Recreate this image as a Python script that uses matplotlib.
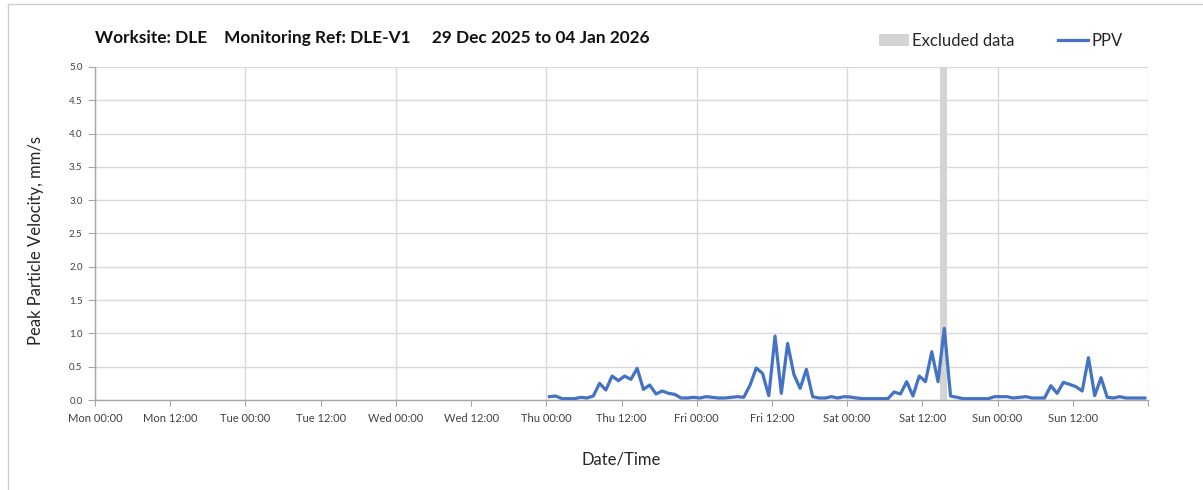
import numpy as np
import matplotlib
matplotlib.use("Agg")
import matplotlib.pyplot as plt
import matplotlib.dates as mdates
from matplotlib.patches import Patch
from matplotlib.lines import Line2D
from datetime import datetime, timedelta

# ---------------- data ----------------
axis_start = datetime(2025, 12, 29, 0, 0)
axis_end = datetime(2026, 1, 5, 0, 0)
data_start = datetime(2026, 1, 1, 0, 30)   # hourly readings

ppv_thu = [0.05, 0.06, 0.02, 0.02, 0.02, 0.04, 0.03, 0.06, 0.25, 0.15, 0.36, 0.29,
           0.36, 0.31, 0.475, 0.16, 0.225, 0.09, 0.135, 0.10, 0.085, 0.03, 0.03, 0.04]
ppv_fri = [0.03, 0.05, 0.04, 0.03, 0.03, 0.04, 0.05, 0.04, 0.22, 0.48, 0.40, 0.065,
           0.96, 0.10, 0.85, 0.385, 0.175, 0.46, 0.05, 0.03, 0.03, 0.05, 0.03, 0.05]
ppv_sat = [0.045, 0.03, 0.02, 0.02, 0.02, 0.02, 0.02, 0.12, 0.09, 0.275, 0.06, 0.36,
           0.275, 0.725, 0.275, 1.075, 0.06, 0.04, 0.02, 0.02, 0.02, 0.02, 0.02, 0.05]
ppv_sun = [0.05, 0.05, 0.03, 0.04, 0.05, 0.03, 0.03, 0.03, 0.215, 0.10, 0.265, 0.235,
           0.20, 0.135, 0.635, 0.065, 0.335, 0.04, 0.03, 0.05, 0.03, 0.03, 0.03, 0.03]
ppv = ppv_thu + ppv_fri + ppv_sat + ppv_sun
times = [data_start + timedelta(hours=i) for i in range(len(ppv))]

excluded_start = datetime(2026, 1, 3, 14, 45)
excluded_end = datetime(2026, 1, 3, 15, 55)

title_text = "Worksite: DLE    Monitoring Ref: DLE-V1     29 Dec 2025 to 04 Jan 2026"
y_ticks = [0.0, 0.5, 1.0, 1.5, 2.0, 2.5, 3.0, 3.5, 4.0, 4.5, 5.0]

# ---------------- plot ----------------
plt.rcParams['font.family'] = ['Lato', 'DejaVu Sans']
W, H = 1203, 490
fig = plt.figure(figsize=(W / 100, H / 100), dpi=100)
ax = fig.add_axes([95 / W, 1 - 400 / H, (1148 - 95) / W, (400 - 67) / H])

line_col = '#4472C4'
grid_col = '#d9d9d9'
spine_col = '#a6a6a6'
text_col = '#404040'

ax.axvspan(excluded_start, excluded_end, color='#d4d4d4', lw=0, zorder=1)
ax.plot(times, ppv, color=line_col, lw=2.3, zorder=3, solid_joinstyle='round')

ax.set_xlim(axis_start, axis_end)
ax.set_ylim(0, 5.0)
ax.set_yticks(y_ticks)
ax.set_yticklabels([f"{v:.1f}" for v in y_ticks])

# x ticks every 12h, grid every day
ax.xaxis.set_major_locator(mdates.HourLocator(byhour=[0, 12]))
ax.xaxis.set_major_formatter(mdates.DateFormatter('%a %H:%M'))
for d in range(8):
    ax.axvline(axis_start + timedelta(days=d), color=grid_col, lw=1.0, zorder=0)
ax.yaxis.grid(True, color=grid_col, lw=1.0, zorder=0)
ax.set_axisbelow(True)

for s in ['top', 'right']:
    ax.spines[s].set_visible(False)
for s in ['left', 'bottom']:
    ax.spines[s].set_color(spine_col)
    ax.spines[s].set_linewidth(1.0)

ax.tick_params(axis='x', labelsize=8, colors=spine_col, labelcolor=text_col,
               length=4, pad=5)
ax.tick_params(axis='y', labelsize=7, colors=spine_col, labelcolor=text_col,
               length=5, pad=4)
fig.canvas.draw()
for lab in ax.get_xticklabels():
    if lab.get_position()[0] >= mdates.date2num(axis_end) - 1e-6:
        lab.set_visible(False)

ax.set_ylabel("Peak Particle Velocity, mm/s", fontsize=12, color='#262626')
ax.yaxis.set_label_coords(-0.048, 0.48)
ax.set_xlabel("Date/Time", fontsize=12, color='#262626', labelpad=20)

fig.text(95 / W, 1 - 38 / H, title_text, fontsize=12.4, fontweight='bold',
         color='#111111', ha='left', va='center')

handles = [Patch(facecolor='#d4d4d4', edgecolor='none', label='Excluded data'),
           Line2D([0], [0], color=line_col, lw=2.3, label='PPV')]
fig.legend(handles=handles, loc='center', bbox_to_anchor=(1001 / W, 1 - 41 / H),
           ncol=2, frameon=False, fontsize=12, labelcolor='#262626',
           handlelength=1.8, handletextpad=0.2, columnspacing=2.6)

# outer frame lines
fig.add_artist(Line2D([8 / W, 1.0], [1 - 4 / H, 1 - 4 / H], color='#d0d0d0', lw=1.0))
fig.add_artist(Line2D([8 / W, 8 / W], [0, 1 - 4 / H], color='#d0d0d0', lw=1.0))

fig.savefig('out.png', dpi=100)
